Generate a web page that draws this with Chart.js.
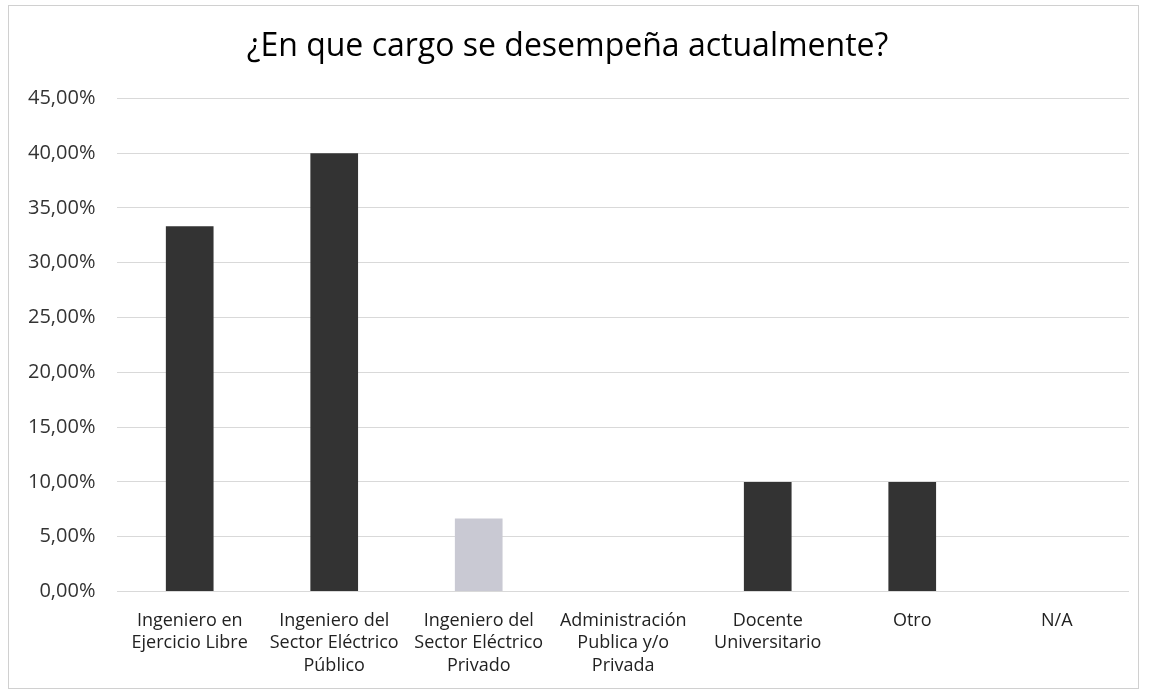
<!DOCTYPE html>
<html>
<head>
<meta charset="utf-8">
<script src="https://cdn.jsdelivr.net/npm/chart.js@4.4.0/dist/chart.umd.min.js"></script>
<style>
html,body{margin:0;padding:0;background:#fff;}
#wrap{position:absolute;left:0;top:0;width:1150px;height:697px;}
#frame{position:absolute;left:8px;top:5px;width:1131px;height:684px;border:1px solid #d0d0d0;box-sizing:border-box;pointer-events:none;}
canvas{position:absolute;left:0;top:0;}
</style>
</head>
<body>
<div id="wrap"><canvas id="c" width="1150" height="697"></canvas><div id="frame"></div></div>
<script>
const titleText = "¿En que cargo se desempeña actualmente?";
const categories = [
  ["Ingeniero en", "Ejercicio Libre"],
  ["Ingeniero del", "Sector Eléctrico", "Público"],
  ["Ingeniero del", "Sector Eléctrico", "Privado"],
  ["Administración", "Publica y/o", "Privada"],
  ["Docente", "Universitario"],
  ["Otro"],
  ["N/A"]
];
const values = [33.33, 40.00, 6.67, 0, 10.00, 10.00, 0];
const barColors = ["#333333", "#333333", "#c9c9d3", "#333333", "#333333", "#333333", "#333333"];
const yMin = 0, yMax = 45, yStep = 5;

const bgPlugin = {
  id: 'bg',
  beforeDraw(chart) {
    const ctx = chart.ctx;
    ctx.save();
    ctx.fillStyle = '#ffffff';
    ctx.fillRect(0, 0, chart.width, chart.height);
    ctx.restore();
  }
};

new Chart(document.getElementById('c'), {
  type: 'bar',
  data: {
    labels: categories,
    datasets: [{
      data: values,
      backgroundColor: barColors,
      borderWidth: 0,
      barPercentage: 0.33,
      categoryPercentage: 1.0
    }]
  },
  options: {
    responsive: false,
    animation: false,
    layout: { padding: { left: 6, right: 21, top: 20, bottom: 10 } },
    plugins: {
      legend: { display: false },
      tooltip: { enabled: false },
      title: {
        display: true,
        text: titleText,
        color: '#000000',
        font: { family: "'Open Sans', sans-serif", size: 32, weight: 'normal', lineHeight: 1.2 },
        padding: { top: 8, bottom: 32 }
      }
    },
    scales: {
      x: {
        grid: { display: false },
        border: { display: false },
        ticks: {
          color: '#222222',
          font: { family: "'Open Sans', sans-serif", size: 18, lineHeight: 1.25 },
          maxRotation: 0,
          autoSkip: false,
          padding: 10
        }
      },
      y: {
        min: yMin, max: yMax,
        grid: { color: '#d9d9d9', lineWidth: 1, drawTicks: false },
        border: { display: false },
        ticks: {
          stepSize: yStep,
          color: '#333333',
          padding: 22,
          font: { family: "'Open Sans', sans-serif", size: 20 },
          callback: v => v.toFixed(2).replace('.', ',') + '%'
        }
      }
    }
  },
  plugins: [bgPlugin]
});
</script>
</body>
</html>
